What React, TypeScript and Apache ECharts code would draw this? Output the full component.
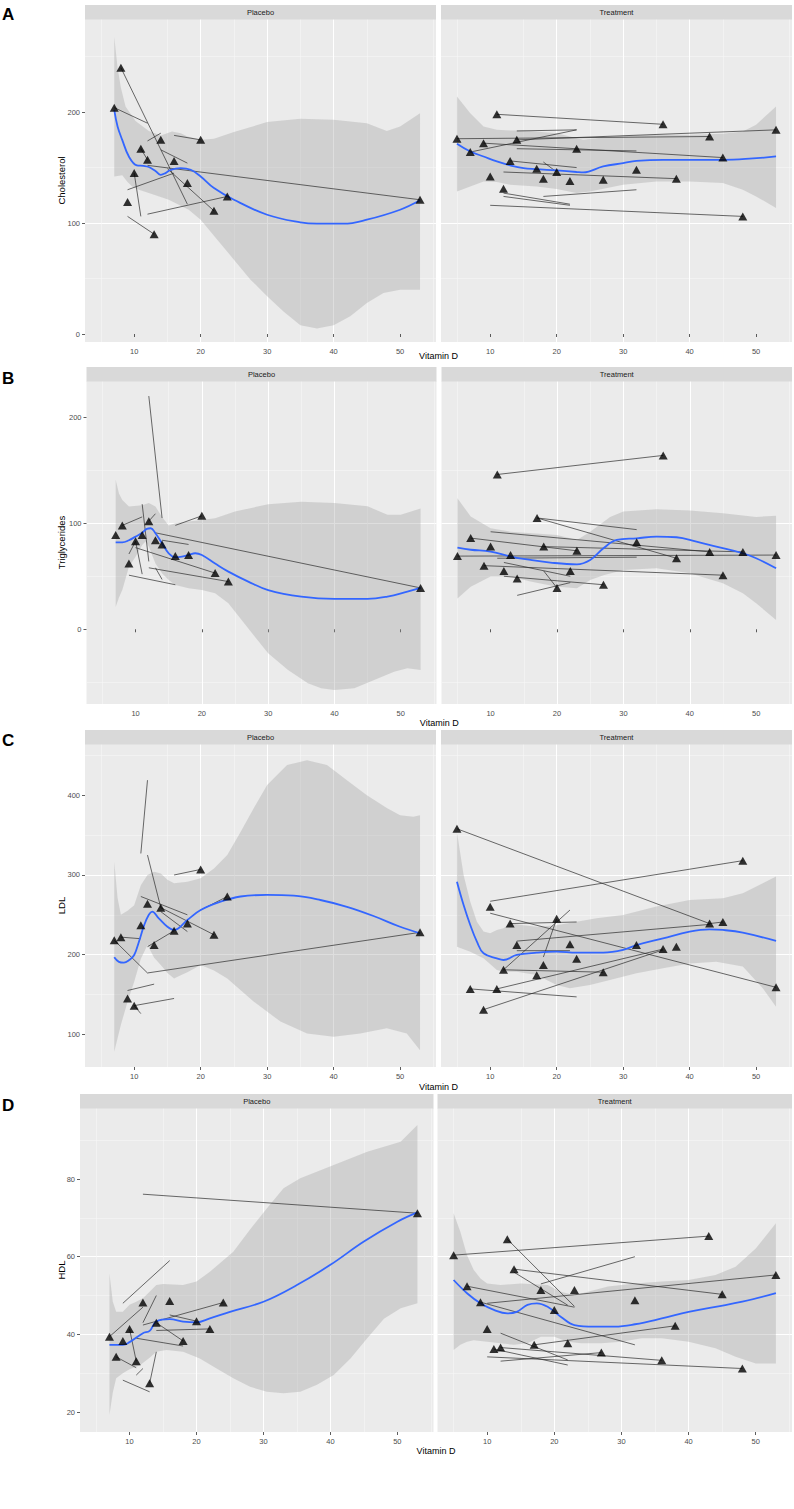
import React, { useEffect, useRef } from "react";
import * as echarts from "echarts";

const FONT = "'Liberation Sans', Arial, Helvetica, sans-serif";

// ---------- tick labels ----------
const xTicks = [10, 20, 30, 40, 50];
const cholTicks = [0, 100, 200];
const trigTicks = [0, 100, 200];
const ldlTicks = [100, 200, 300, 400];
const hdlTicks = [20, 40, 60, 80];
const facetNames = ["Placebo", "Treatment"];
const rowLetters = ["A", "B", "C", "D"];
const yTitles = ["Cholesterol", "Triglycerides", "LDL", "HDL"];
const xTitle = "Vitamin D";

// ---------- A: Cholesterol, Placebo ----------
const cholPlaTri = [[7,204],[8,240],[11,167],[14,175],[12,157],[16,156],[10,145],[9,119],[18,136],[20,175],[24,124],[22,111],[13,90],[53,121]];
const cholPlaSeg = [[7,204,12,190],[8,240,18,117],[12,174,14,181],[16,179,20,175],[14,166,18,154],[11,167,12,157],[12,152,53,121],[9,130,16,145],[10,145,11,106],[12,108,24,124],[15,149,22,111],[9,106,13,90]];
const cholPlaFit = [[7,202],[7.5,187],[8.2,175],[9.2,160],[10.4,152],[11.4,151.5],[12.2,150.5],[13.2,147],[14,143.5],[14.7,145],[15.5,148],[17,149.5],[18.5,148],[20,142],[22,131.5],[25,121],[30,107.5],[35,100.6],[37.5,99.4],[41.5,99.4],[45,103],[50,112],[53,120.5]];
const cholPlaUpper = [[7,268],[7.5,240],[8,222],[8.7,205],[10.2,192],[12.2,183],[14,179],[15.7,182.5],[17,181],[18,178],[20,175],[22,176],[25,182],[30,191],[35,194],[40,193],[45,190],[48,183],[50,187],[53,199]];
const cholPlaLower = [[7,142],[8.2,143],[9,137],[9.7,133],[10.7,130],[12.2,127],[15.2,121],[18.2,112],[20,103],[22.5,85],[25,67],[27.5,49],[30,34],[32.5,20],[35,8],[37.5,5],[40,8],[42.5,16],[45,28],[47.5,37],[50,40],[53,40]];

// ---------- A: Cholesterol, Treatment ----------
const cholTrtTri = [[5,176],[11,198],[36,189],[9,172],[7,164],[14,175],[23,167],[43,178],[53,184],[45,159],[13,156],[17,149],[20,146],[10,142],[18,140],[22,138],[27,139],[32,148],[38,140],[12,131],[48,106]];
const cholTrtSeg = [[11,198,36,189],[5,176,43,178],[14,175,53,184],[7,164,23,184],[14,183,23,184],[9,172,45,159],[14,167,32,165],[13,156,23,150],[18,155,20,146],[12,146,38,140],[18,124,32,130],[12,127,22,117],[12,124,22,116],[10,116,48,106]];
const cholTrtFit = [[5,171.5],[7,164.5],[9,160],[11,155.5],[13,152],[15,149.5],[17,148.6],[20,147.4],[23,146],[24,145.6],[27,151],[30,154],[32,156],[36,157],[40,157],[45,157],[49,158],[53,160]];
const cholTrtUpper = [[5,214],[7,199],[9,187],[11,184],[13,183.5],[15,183.5],[20,181],[24,175],[27,177],[30,178.7],[35,179.6],[40,179.6],[45,180.5],[48,182.6],[50,188.6],[53,205]];
const cholTrtLower = [[5,128.5],[7,133],[9,137.5],[11,137],[13,134.5],[17,133],[20,130.6],[23,127],[25,128.5],[30,134.5],[35,137.5],[40,137.5],[45,136],[48,130],[50,124],[53,113.5]];

// ---------- B: Triglycerides, Placebo ----------
const trigPlaTri = [[7,89],[8,98],[12,102],[11,89],[10,83],[13,84],[14,80],[9,62],[16,69],[18,70],[20,107],[22,53],[24,45],[53,39]];
const trigPlaSeg = [[12,220,14,105],[8,98,11,106],[11,118,12,64],[12,102,13,109],[16,98,20,107],[13,91,53,39],[14,84,18,80],[10,77,22,53],[10,83,11,52],[9,71,10,83],[12,58,24,45],[13,58,14,47],[9,51,16,42]];
const trigPlaFit = [[7,82],[8,82],[9,84],[10,87.4],[11,91],[11.7,94.7],[12.3,95.3],[13,90.6],[14,81],[15,71.7],[16,68],[17,68.6],[18,70],[19,71.7],[20,70],[22,62],[24,54.4],[27,45],[30,37],[35,30.8],[40,28.6],[45,28.6],[48,30.8],[51,35.5],[53,39]];
const trigPlaUpper = [[7,141],[7.5,128],[8,122],[9,115.7],[11,117],[12,119],[13,115.7],[14,106],[15,98],[16,100],[18,101.6],[22,104.7],[25,111],[30,118],[35,120.4],[40,119],[45,116],[48,108],[50,108],[53,114]];
const trigPlaLower = [[7,21],[7.5,30],[8,37],[9,59],[10,68.5],[11,79.6],[11.5,82.7],[12,78],[13,62],[14,52.8],[15,46.5],[16,41.8],[18,38.7],[20,37],[22,34],[24,24.5],[26,8.8],[28,-7],[30,-22.6],[33,-38.4],[36,-51],[38,-55.7],[40,-57.2],[43,-55.7],[46,-47.8],[49,-40],[51,-36.8],[53,-38.4]];

// ---------- B: Triglycerides, Treatment ----------
const trigTrtTri = [[5,69],[7,86],[10,78],[9,60],[11,146],[36,164],[13,70],[12,55],[14,48],[17,105],[18,78],[20,39],[22,55],[23,74],[27,42],[32,82],[38,67],[43,73],[45,51],[48,73],[53,70]];
const trigTrtSeg = [[11,146,36,164],[17,105,32,94],[17,105,38,67],[10,92,43,73],[7,86,23,74],[18,78,48,73],[5,69,53,70],[9,60,45,51],[11,67,32,68],[12,63,22,50],[12,50,27,42],[14,32,22,44],[18,55,20,39]];
const trigTrtFit = [[5,77],[7,75],[10,73.3],[13,68.6],[16,65.4],[19,62.9],[23,61.3],[25,65.4],[27,76.4],[29,84.3],[32,85.8],[35,87.4],[38,86.8],[41,82.7],[44,78],[48,71.7],[50,67],[53,57.5]];
const trigTrtUpper = [[5,123.6],[7,106.3],[10,95.3],[13,92.1],[20,89],[23,84.3],[25,92],[28,106],[30,111],[35,113.2],[40,112],[45,109.4],[50,106],[53,107]];
const trigTrtLower = [[5,29],[7,40],[10,49.7],[13,49.7],[16,45],[20,40],[23,38.7],[25,46.5],[27,51],[30,56],[35,57.5],[40,52.8],[45,43.4],[48,34],[50,24.5],[53,8.8]];

// ---------- C: LDL, Placebo ----------
const ldlPlaTri = [[7,218],[8,222],[12,264],[14,259],[11,237],[16,230],[18,239],[13,212],[22,225],[20,307],[24,273],[9,145],[10,136],[53,228]];
const ldlPlaSeg = [[12,419,11,327],[12,325,14,259],[14,254,18,229],[11,273,18,250],[14,259,22,225],[16,300,20,307],[20,256,24,273],[12,210,16,230],[8,222,11,220],[7,218,12,177],[12,177,53,228],[9,155,13,163],[10,136,16,145],[10,136,11,126]];
const ldlPlaFit = [[7,196.7],[7.7,191],[8.45,190],[9.2,193],[10,199.6],[10.7,216],[11.5,237],[12.2,250],[12.7,254],[13.7,245.6],[15,235],[16,231],[18,243.5],[20,256],[23,266.5],[26,273],[30,275],[34,274],[38,268.6],[42,260],[46,248.5],[50,235],[53,226.8]];
const ldlPlaUpper = [[7,316.7],[7.5,271],[8,250],[9,255],[10,262],[11,287],[12,300],[13,304],[14,302],[15,294],[16,289.5],[18,291.6],[20,296],[22,308],[24,325],[26,354],[28,384],[30,413],[33,438],[36,444],[39,438],[42,419],[45,400],[48,384],[50,375],[52,373],[53,375]];
const ldlPlaLower = [[7,78],[8,112],[9,141],[10,166],[11,195],[12,212],[13,196],[14,187],[15,177],[16,170],[17,174],[18,178],[20,187],[22,180],[24,170],[28,141],[32,116],[36,101],[40,97],[44,101],[48,107.5],[51,101],[53,80]];

// ---------- C: LDL, Treatment ----------
const ldlTrtTri = [[5,358],[48,318],[10,260],[13,239],[20,245],[43,239],[45,241],[14,212],[22,213],[32,212],[36,207],[38,210],[23,195],[18,187],[12,181],[17,174],[27,178],[7,157],[11,157],[9,131],[53,159]];
const ldlTrtSeg = [[5,358,43,239],[10,267,48,318],[10,252,53,159],[13,239,23,241],[14,217,43,238],[43,239,45,241],[14,205,22,205],[20,245,18,197],[12,181,22,256],[12,181,27,178],[11,157,36,207],[9,131,36,206],[7,157,23,147]];
const ldlTrtFit = [[5,291.6],[6,262.3],[7,237.2],[8,216.3],[9,201.7],[11,195.4],[12,193.3],[14,199.6],[17,202.5],[20,203.8],[23,202.5],[27,202.5],[30,205.9],[32,212],[36,220.5],[40,228.9],[43,231.8],[45,231],[48,227.6],[53,217.2]];
const ldlTrtUpper = [[5,354],[6,300],[7,266.5],[8,241.4],[9,229],[10,226.8],[11,231],[12,233],[13,239.3],[15,237],[17,235],[20,237],[23,241.4],[26,245.6],[30,249.8],[35,260.3],[40,268.6],[45,270.7],[48,277],[51,289.5],[53,298]];
const ldlTrtLower = [[5,210],[7,203.8],[9,195.4],[11,180.7],[12,178.7],[14,178.7],[17,174.5],[20,162],[22,157.7],[25,162],[28,168.2],[32,176.6],[36,183],[40,189],[44,191],[48,185],[51,157.7],[53,134.7]];

// ---------- D: HDL, Placebo ----------
const hdlPlaTri = [[7,39.4],[8,34.2],[9,38.3],[10,41.4],[11,33.1],[12,48.2],[13,27.4],[14,43],[16,48.6],[18,38.3],[20,43.4],[22,41.4],[24,48.2],[53,71.2]];
const hdlPlaSeg = [[9,48,16,59],[7,39.4,12,47],[12,43,14,50],[12,42.4,24,48.2],[16,45,20,43.4],[14,43,18,38.3],[14,41,22,41.4],[11,39,18,37],[10,41.4,11,33.1],[8,34.2,11,31.4],[11,29.5,12,31.2],[13,27.4,14,35.5],[9,28.2,13,25.2],[12,76.1,53,71.2]];
const hdlPlaFit = [[7,37.3],[9,37.3],[10,38],[12,40.3],[13,40.9],[14,43.3],[16,43.9],[18,43.3],[20,43.1],[22,44.1],[25,45.8],[30,48.4],[35,52.7],[40,57.9],[45,63.9],[50,69],[53,71.4]];
const hdlPlaUpper = [[7,55.7],[7.5,48.4],[8,45.8],[9,45.8],[10,47.6],[11,48.4],[12,49.3],[13,51],[14,52.7],[15,53],[18,52.7],[20,53.6],[22,56.1],[25.5,61.3],[28,67],[30.5,72.4],[33,77.6],[35.5,80.2],[40.5,83.6],[45.5,87],[50.5,89.6],[53,93.9]];
const hdlPlaLower = [[7,19.2],[7.5,25],[8,28.7],[9,30],[10,31],[11.5,32],[13,34],[14,35.5],[15.5,36],[18,35.5],[20.5,33.8],[23,31.2],[25.5,28.7],[28,26.5],[30.5,25.2],[33,24.8],[35.5,25.2],[38,27],[40.5,29.5],[43,33.8],[45.5,39],[48,44],[50.5,46.7],[53,48]];

// ---------- D: HDL, Treatment ----------
const hdlTrtTri = [[5,60.4],[13,64.5],[43,65.3],[14,56.8],[53,55.3],[7,52.4],[18,51.4],[23,51.4],[9,48.3],[32,48.8],[45,50.3],[20,46.3],[10,41.4],[38,42.2],[11,36.2],[12,36.6],[17,37.3],[22,37.7],[27,35.3],[36,33.3],[48,31.2]];
const hdlTrtSeg = [[5,60.4,43,65.3],[13,64.5,23,47.2],[14,56.8,45,50.3],[14,56,22,47.5],[18,53,32,60],[10,48,53,55.3],[7,52.4,23,47],[9,48.3,32,37.3],[17,37.3,38,42.2],[12,40.3,22,33.4],[12,36.6,36,33.3],[10,34.2,48,31.2],[12,33.1,27,35.3],[11,36.2,22,32.1]];
const hdlTrtFit = [[5,54],[7,50.6],[9,48],[11,46.3],[13,45.4],[14.4,45.8],[16,47.6],[17.4,48],[19,47.1],[21,44.5],[23,42.4],[26,42],[29,42],[32,42.6],[36,44.1],[40,45.8],[44,47.1],[48,48.4],[53,50.6]];
const hdlTrtUpper = [[5,71.2],[6,66.4],[7,60.4],[8,56.6],[9,54.4],[10,53.1],[12,52.7],[15,53.1],[19,52.7],[21,51],[23,50.1],[25,51],[28,52.3],[32,53.1],[36,53.6],[40,54],[44,55.3],[47,57.4],[50,62.1],[53,68.6]];
const hdlTrtLower = [[5,36],[6,37.3],[7,38.1],[8,38.5],[10,38.1],[12,37.7],[14,37.3],[16,37.7],[18,39.4],[20,39.4],[22,38.1],[24,37.7],[27,37.7],[30,38.1],[33,39],[36,39],[40,38.1],[44,36.4],[47,34.2],[50,32.5],[53,32.5]];

// ---------- assembly ----------
const X_RANGE = [2.6, 55.4];
const ROWS = [
  { ticks: cholTicks, range: [-7.2, 283.9], step: 100,
    panels: [
      { tri: cholPlaTri, seg: cholPlaSeg, fit: cholPlaFit, up: cholPlaUpper, lo: cholPlaLower },
      { tri: cholTrtTri, seg: cholTrtSeg, fit: cholTrtFit, up: cholTrtUpper, lo: cholTrtLower },
    ] },
  { ticks: trigTicks, range: [-70.5, 234.2], step: 100,
    panels: [
      { tri: trigPlaTri, seg: trigPlaSeg, fit: trigPlaFit, up: trigPlaUpper, lo: trigPlaLower },
      { tri: trigTrtTri, seg: trigTrtSeg, fit: trigTrtFit, up: trigTrtUpper, lo: trigTrtLower },
    ] },
  { ticks: ldlTicks, range: [59, 464.4], step: 100,
    panels: [
      { tri: ldlPlaTri, seg: ldlPlaSeg, fit: ldlPlaFit, up: ldlPlaUpper, lo: ldlPlaLower },
      { tri: ldlTrtTri, seg: ldlTrtSeg, fit: ldlTrtFit, up: ldlTrtUpper, lo: ldlTrtLower },
    ] },
  { ticks: hdlTicks, range: [14.85, 98.3], step: 20,
    panels: [
      { tri: hdlPlaTri, seg: hdlPlaSeg, fit: hdlPlaFit, up: hdlPlaUpper, lo: hdlPlaLower },
      { tri: hdlTrtTri, seg: hdlTrtSeg, fit: hdlTrtFit, up: hdlTrtUpper, lo: hdlTrtLower },
    ] },
];

// pixel layout
const LAYOUT = [
  { top: 19, height: 323, cols: [[85, 351], [441, 351]], letterY: 6, xTitleY: 356 },
  { top: 381, height: 323, cols: [[86.5, 350], [441.5, 350.5]], letterY: 370, xTitleY: 723 },
  { top: 744, height: 323, cols: [[85, 351], [441, 351]], letterY: 732, xTitleY: 1087 },
  { top: 1108, height: 324, cols: [[80, 353.5], [437.5, 354.5]], letterY: 1097, xTitleY: 1451 },
];
const STRIP_H = 14;
const Y_TITLE_X = 61;

function buildOption() {
  const grid: any[] = [];
  const xAxis: any[] = [];
  const yAxis: any[] = [];
  const series: any[] = [];
  const graphic: any[] = [];

  ROWS.forEach((row, r) => {
    const L = LAYOUT[r];
    row.panels.forEach((p, c) => {
      const gi = grid.length;
      const [left, width] = L.cols[c];
      grid.push({ left, top: L.top, width, height: L.height, show: true, backgroundColor: "#EBEBEB", borderWidth: 0 });
      const common = {
        gridIndex: gi,
        type: "value",
        axisLine: { show: false },
        axisTick: { show: true, length: 3, lineStyle: { color: "#333333", width: 0.8 } },
        splitLine: { show: true, showMinLine: false, showMaxLine: false, lineStyle: { color: "#FFFFFF", width: 1 } },
        minorTick: { show: false, splitNumber: 2 },
        minorSplitLine: { show: true, lineStyle: { color: "#F7F7F7", width: 0.6 } },
      };
      const labelStyle = { color: "#4D4D4D", fontSize: 7.5, fontFamily: FONT, margin: 5 };
      xAxis.push({
        ...common,
        min: X_RANGE[0], max: X_RANGE[1], minInterval: 10, maxInterval: 10, splitNumber: 5,
        axisTick: { ...common.axisTick, customValues: xTicks },
        axisLabel: { ...labelStyle, customValues: xTicks },
      });
      yAxis.push({
        ...common,
        min: row.range[0], max: row.range[1], minInterval: row.step, maxInterval: row.step, splitNumber: 4,
        axisTick: { ...common.axisTick, show: c === 0, customValues: row.ticks },
        axisLabel: { ...labelStyle, show: c === 0, customValues: row.ticks },
      });

      const up = p.up, lo = p.lo;
      series.push({
        type: "custom", xAxisIndex: gi, yAxisIndex: gi, silent: true, z: 1, clip: true,
        data: [[up[0][0], up[0][1]]],
        renderItem: (params: any, api: any) => {
          const pts = up.map((q: number[]) => api.coord(q)).concat(lo.slice().reverse().map((q: number[]) => api.coord(q)));
          return { type: "polygon", shape: { points: pts }, style: { fill: "rgba(153,153,153,0.32)", stroke: null } };
        },
      });
      series.push({
        type: "custom", xAxisIndex: gi, yAxisIndex: gi, silent: true, z: 2, clip: true,
        data: p.seg, encode: { x: [0, 2], y: [1, 3] },
        renderItem: (params: any, api: any) => {
          const a = api.coord([api.value(0), api.value(1)]);
          const b = api.coord([api.value(2), api.value(3)]);
          return { type: "line", shape: { x1: a[0], y1: a[1], x2: b[0], y2: b[1] }, style: { stroke: "#2b2b2b", lineWidth: 0.7 } };
        },
      });
      series.push({
        type: "line", xAxisIndex: gi, yAxisIndex: gi, silent: true, z: 3,
        data: p.fit, smooth: 0.4, symbol: "none", showSymbol: false,
        lineStyle: { color: "#3366FF", width: 1.8 },
      });
      series.push({
        type: "scatter", xAxisIndex: gi, yAxisIndex: gi, silent: true, z: 4,
        data: p.tri, symbol: "triangle", symbolSize: [9, 8],
        itemStyle: { color: "#000000" },
      });

      // strip
      graphic.push({ type: "rect", silent: true, z: 10, shape: { x: left, y: L.top - STRIP_H, width, height: STRIP_H + 0.5 }, style: { fill: "#D9D9D9" } });
      graphic.push({
        type: "text", silent: true, z: 11, x: left + width / 2, y: L.top - STRIP_H / 2,
        style: { text: facetNames[c], fill: "#1A1A1A", fontSize: 7.5, fontFamily: FONT, align: "center", verticalAlign: "middle", textAlign: "center", textVerticalAlign: "middle" },
      });
    });

    // row letter
    graphic.push({
      type: "text", silent: true, z: 11, x: 2, y: L.letterY,
      style: { text: rowLetters[r], fill: "#000", fontSize: 17, fontWeight: "bold", fontFamily: FONT, align: "left", verticalAlign: "top", textAlign: "left", textVerticalAlign: "top" },
    });
    // x title
    const xl = L.cols[0][0], xr = L.cols[1][0] + L.cols[1][1];
    graphic.push({
      type: "text", silent: true, z: 11, x: (xl + xr) / 2, y: L.xTitleY,
      style: { text: xTitle, fill: "#000", fontSize: 9, fontFamily: FONT, align: "center", verticalAlign: "middle", textAlign: "center", textVerticalAlign: "middle" },
    });
    // y title
    graphic.push({
      type: "text", silent: true, z: 11, x: Y_TITLE_X, y: L.top + L.height / 2, rotation: Math.PI / 2,
      style: { text: yTitles[r], fill: "#000", fontSize: 9.5, fontFamily: FONT, align: "center", verticalAlign: "middle", textAlign: "center", textVerticalAlign: "middle" },
    });
  });

  return { animation: false, backgroundColor: "#FFFFFF", grid, xAxis, yAxis, series, graphic };
}

export default function App() {
  const ref = useRef<HTMLDivElement>(null);
  useEffect(() => {
    if (!ref.current) return;
    const chart = echarts.init(ref.current, null, { renderer: "svg", width: 794, height: 1509 });
    chart.setOption(buildOption() as any);
    return () => chart.dispose();
  }, []);
  return <div ref={ref} style={{ position: "absolute", left: 0, top: 0, width: 794, height: 1509 }} />;
}
